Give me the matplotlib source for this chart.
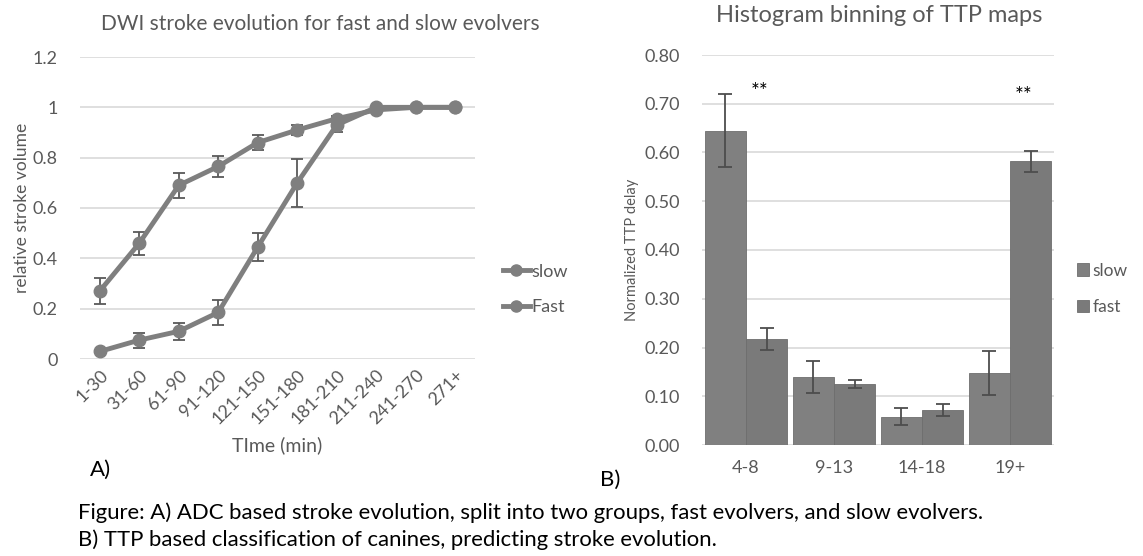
import matplotlib
matplotlib.use('Agg')
import matplotlib.pyplot as plt
from matplotlib.lines import Line2D
import numpy as np

plt.rcParams['font.family'] = ['Lato', 'DejaVu Sans']

# panel A: DWI stroke evolution
time_bins = ['1-30', '31-60', '61-90', '91-120', '121-150', '151-180',
             '181-210', '211-240', '241-270', '271+']
slow_vol = [0.03, 0.075, 0.11, 0.185, 0.445, 0.70, 0.93, 1.0, 1.0, 1.0]
slow_err = [0.005, 0.03, 0.035, 0.05, 0.055, 0.095, 0.03, 0.0, 0.0, 0.0]
fast_vol = [0.27, 0.46, 0.69, 0.765, 0.86, 0.91, 0.955, 0.99, 1.0, 1.0]
fast_err = [0.05, 0.045, 0.05, 0.04, 0.03, 0.02, 0.01, 0.005, 0.0, 0.0]

# panel B: TTP histogram bins
ttp_bins = ['4-8', '9-13', '14-18', '19+']
slow_ttp = [0.645, 0.14, 0.058, 0.148]
slow_ttp_err = [0.075, 0.033, 0.017, 0.045]
fast_ttp = [0.217, 0.125, 0.072, 0.582]
fast_ttp_err = [0.022, 0.008, 0.013, 0.022]
sig_marks = ['**', '', '', '**']

grey = '#7f7f7f'
txt = '#595959'
gridc = '#d9d9d9'

fig = plt.figure(figsize=(11.43, 5.56), dpi=100)

# ---- panel A
ax1 = fig.add_axes([80/1143, 1-359/556, 395/1143, 302/556])
x = np.arange(len(time_bins))
ax1.errorbar(x, slow_vol, yerr=slow_err, color=grey, lw=3.5, marker='o', ms=9,
             ecolor='#595959', elinewidth=1.3, capsize=4, capthick=1.3)
ax1.errorbar(x, fast_vol, yerr=fast_err, color=grey, lw=3.5, marker='o', ms=9,
             ecolor='#595959', elinewidth=1.3, capsize=4, capthick=1.3)
ax1.set_xlim(-0.5, len(time_bins)-0.5)
ax1.set_ylim(0, 1.2)
ax1.set_yticks([0, 0.2, 0.4, 0.6, 0.8, 1.0, 1.2])
ax1.set_yticklabels(['0', '0.2', '0.4', '0.6', '0.8', '1', '1.2'])
ax1.set_xticks(x)
ax1.set_xticklabels(time_bins, rotation=45, ha='right', rotation_mode='anchor')
ax1.tick_params(axis='both', length=0, labelsize=13, labelcolor=txt)
ax1.tick_params(axis='y', pad=16)
ax1.tick_params(axis='x', pad=6)
ax1.grid(axis='y', color=gridc, lw=1.2)
ax1.set_axisbelow(True)
for s in ax1.spines.values():
    s.set_visible(False)
ax1.set_ylabel('relative stroke volume', fontsize=12.5, color=txt, labelpad=2)
ax1.set_xlabel('TIme (min)', fontsize=14, color=txt, labelpad=6)
handles = [Line2D([], [], color=grey, lw=3.5, marker='o', ms=8) for _ in range(2)]
ax1.legend(handles, ['slow', 'Fast'], loc='center left', bbox_to_anchor=(1.07, 0.23),
           frameon=False, fontsize=13, labelcolor=txt, handlelength=1.5,
           handletextpad=0.1, labelspacing=1.1, borderpad=0, borderaxespad=0)
fig.text(320/1143, 1-24/556, 'DWI stroke evolution for fast and slow evolvers',
         ha='center', va='center', fontsize=15, color=txt)
fig.text(90/1143, 1-470/556, 'A)', ha='left', va='center', fontsize=16, color='black')

# ---- panel B
ax2 = fig.add_axes([702/1143, 1-445/556, 352/1143, 390/556])
xb = np.arange(len(ttp_bins))
w = 0.47
ax2.bar(xb - w/2, slow_ttp, w, yerr=slow_ttp_err, color='#808080', edgecolor='#6e6e6e',
        lw=0.6, error_kw=dict(ecolor='#4d4d4d', elinewidth=1.3, capsize=5, capthick=1.3),
        label='slow')
ax2.bar(xb + w/2, fast_ttp, w, yerr=fast_ttp_err, color='#7a7a7a', edgecolor='#6e6e6e',
        lw=0.6, error_kw=dict(ecolor='#4d4d4d', elinewidth=1.3, capsize=5, capthick=1.3),
        label='fast')
for i, m in enumerate(sig_marks):
    if m:
        ax2.text(xb[i] + 0.15, 0.725 if i == 0 else 0.715, m, ha='center', va='center',
                 fontsize=15, color='black')
ax2.set_xlim(-0.5, len(ttp_bins)-0.5)
ax2.set_ylim(0, 0.8)
ax2.set_yticks(np.arange(0, 0.81, 0.1))
ax2.set_yticklabels(['%.2f' % v for v in np.arange(0, 0.81, 0.1)])
ax2.set_xticks(xb)
ax2.set_xticklabels(ttp_bins)
ax2.tick_params(axis='both', length=0, labelsize=13, labelcolor=txt)
ax2.tick_params(axis='y', pad=16)
ax2.tick_params(axis='x', pad=11)
ax2.grid(axis='y', color=gridc, lw=1.2)
ax2.set_axisbelow(True)
for s in ax2.spines.values():
    s.set_visible(False)
ax2.set_ylabel('Normalized TTP delay', fontsize=10.5, color=txt, labelpad=4)
ax2.legend(loc='center left', bbox_to_anchor=(1.065, 0.40), frameon=False,
           fontsize=12.5, labelcolor=txt, handlelength=0.7, handleheight=0.7,
           handletextpad=0.2, labelspacing=1.2, borderpad=0, borderaxespad=0)
fig.text(879/1143, 1-15/556, 'Histogram binning of TTP maps',
         ha='center', va='center', fontsize=17, color=txt)
fig.text(600/1143, 1-480/556, 'B)', ha='left', va='center', fontsize=16, color='black')

# caption
cap = ['Figure: A) ADC based stroke evolution, split into two groups, fast evolvers, and slow evolvers.',
       'B) TTP based classification of canines, predicting stroke evolution.']
fig.text(78/1143, 1-513/556, cap[0], ha='left', va='center', fontsize=15.9, color='black')
fig.text(78/1143, 1-540/556, cap[1], ha='left', va='center', fontsize=15.9, color='black')

fig.savefig('out.png', dpi=100)
